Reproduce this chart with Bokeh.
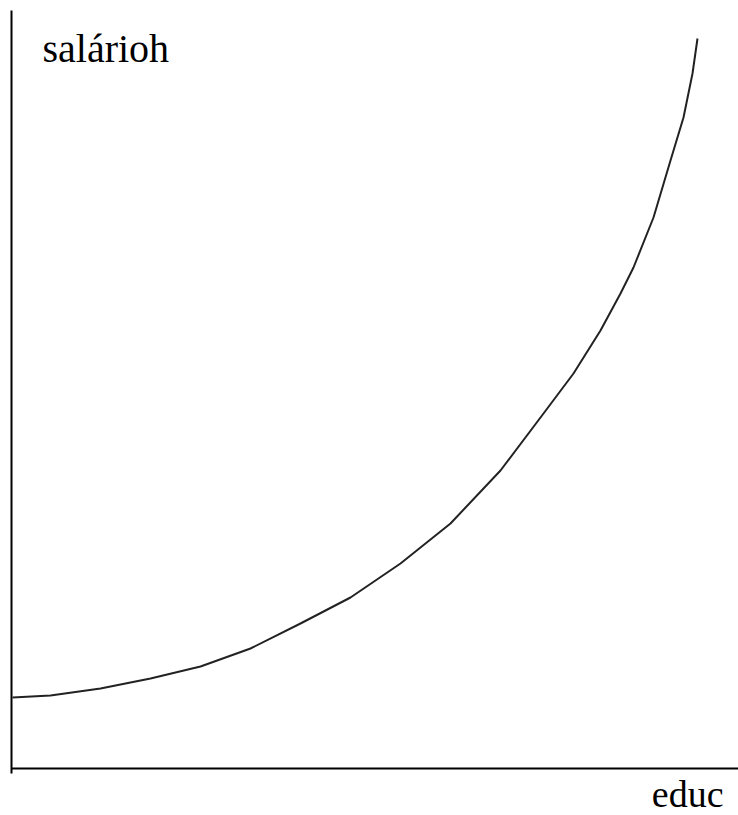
from bokeh.plotting import figure
from bokeh.models import Range1d
from bokeh.core.properties import value
from bokeh.embed import file_html
from bokeh.resources import INLINE

# Hourly wage as a function of education (schematic, no tick values)
educ = [1, 39, 89, 139, 189, 239, 289, 339, 389, 439, 489, 529, 562, 589, 609,
        622, 642, 659, 672, 681, 686]
salarioh = [71, 73, 80, 90, 102, 120, 145, 171, 205, 245, 298, 351, 395, 438, 475,
            501, 551, 608, 651, 695, 730]

x_label = "educ"
y_label = "salárioh"

W, H = 738, 815
p = figure(width=W, height=H, output_backend="svg", toolbar_location=None,
           x_range=Range1d(-11, 727), y_range=Range1d(-47, 768),
           min_border=0)
p.axis.visible = False
p.grid.visible = False
p.outline_line_color = None
p.background_fill_color = "white"
p.border_fill_color = "white"

# axis lines
p.segment(x0=[0, 0], y0=[-5, 0], x1=[0, 727], y1=[758, 0],
          line_color="black", line_width=2)

# curve
p.line(educ, salarioh, line_color="#222222", line_width=2, line_join="round")

p.text(x=[31], y=[720], text=[y_label], text_font=value("Liberation Serif"),
       text_font_size="40px", text_baseline="alphabetic", text_color="black")
p.text(x=[712], y=[-25], text=[x_label], text_font=value("Liberation Serif"),
       text_font_size="38px", text_baseline="alphabetic", text_align="right",
       text_color="black")

open("out.html", "w").write(file_html(p, INLINE))
